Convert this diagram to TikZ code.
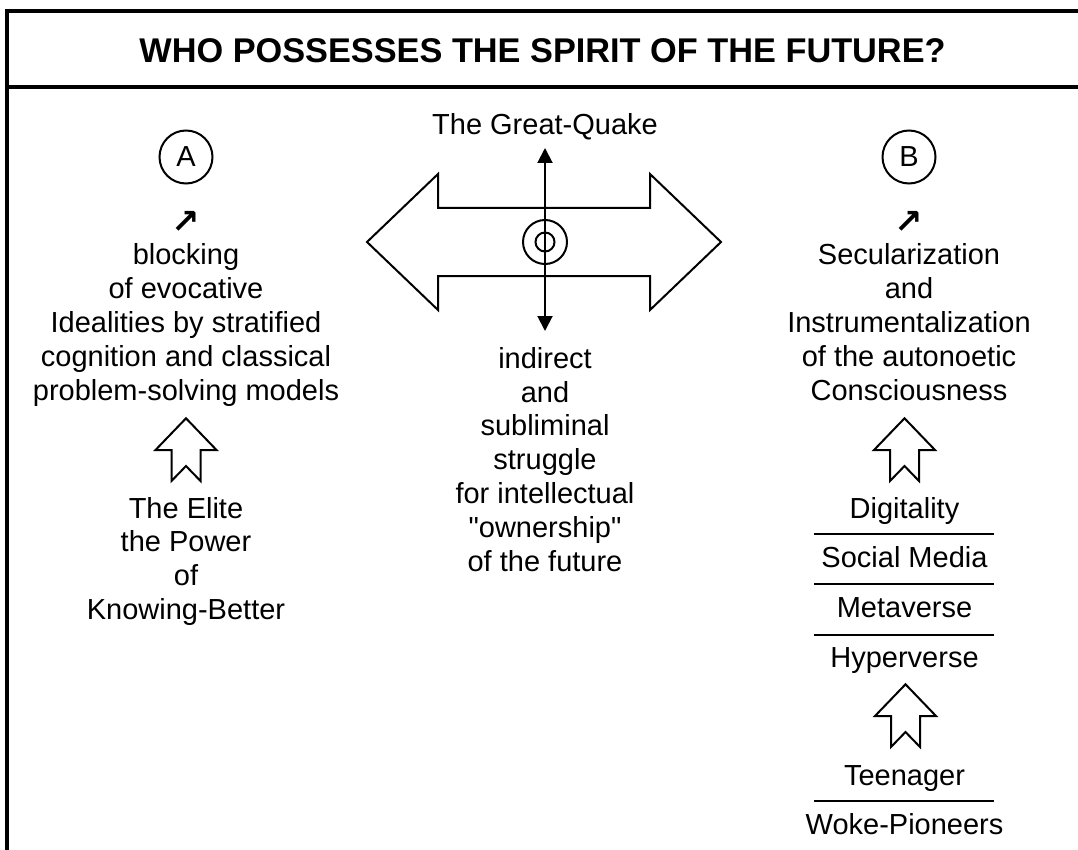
\documentclass[tikz,border=0pt]{standalone}
\usepackage{fontspec}
\setmainfont{Liberation Sans}[Ligatures=TeXOff]
\newfontfamily\symfont{DejaVu Sans}
\usetikzlibrary{arrows.meta}
\begin{document}
\begin{tikzpicture}[x=1pt,y=-1pt,
  frame/.style={line width=4pt},
  outline/.style={draw=black, line width=2pt, line join=miter},
  body/.style={inner sep=0pt, anchor=base, font=\fontsize{29}{33.8}\selectfont},
  titletext/.style={inner sep=0pt, anchor=base, font=\fontsize{34.3}{40}\selectfont\bfseries},
  lettercircle/.style={circle, draw=black, line width=2pt, minimum size=53pt, inner sep=0pt, font=\fontsize{29}{33.8}\selectfont},
  diag/.style={inner sep=0pt, font=\symfont\bfseries\fontsize{34}{40}\selectfont},
  sep/.style={line width=2pt},
  pics/blockup/.style={code={
    \draw[outline] (0,0) -- (30.5,31.7) -- (14.5,31.7) -- (14.5,62.7) -- (0,47.7)
      -- (-14.5,62.7) -- (-14.5,31.7) -- (-30.5,31.7) -- cycle;}}
]
\useasboundingbox (0,0) rectangle (1078,850);
% frame
\draw[frame] (7,852) -- (7,11) -- (1080,11);
\draw[frame] (7,87) -- (1080,87);
\node[titletext] (title) at (542.5,62.7) {WHO POSSESSES THE SPIRIT OF THE FUTURE?};

% column A
\node[lettercircle] (ca) at (186,157) {A};
\node[diag] (da) at (186,222) {↗};
\node[body] (atext) at (186,265) {\begin{tabular}[t]{@{}c@{}}blocking\\of evocative\\Idealities by stratified\\cognition and classical\\problem-solving models\end{tabular}};
\pic at (186,418.3) {blockup};
\node[body] (elite) at (186,518) {\begin{tabular}[t]{@{}c@{}}The Elite\\the Power\\of\\Knowing-Better\end{tabular}};

% centre
\node[body] (quake) at (545,135) {The Great-Quake};
\draw[outline] (367,242) -- (438,174) -- (438,208) -- (650,208) -- (650,174) -- (721,242)
  -- (650,310) -- (650,276) -- (438,276) -- (438,310) -- cycle;
\node[circle, draw=black, line width=2pt, minimum size=44pt, inner sep=0pt] (outer) at (545,242) {};
\node[circle, draw=black, line width=2pt, minimum size=19pt, inner sep=0pt] (inner) at (545,242) {};
\coordinate (qtop) at (545,148);
\coordinate (qbot) at (545,331);
\draw[line width=2pt, {Triangle[width=15pt,length=15pt]}-{Triangle[width=15pt,length=15pt]}] (qtop) -- (qbot);
\node[body] (struggle) at (545,368.3) {\begin{tabular}[t]{@{}c@{}}indirect\\and\\subliminal\\struggle\\for intellectual\\"ownership"\\of the future\end{tabular}};

% column B
\node[lettercircle] (cb) at (909,157) {B};
\node[diag] (db) at (909,222) {↗};
\node[body] (btext) at (909,265) {\begin{tabular}[t]{@{}c@{}}Secularization\\and\\Instrumentalization\\of the autonoetic\\Consciousness\end{tabular}};
\pic at (904.5,418.3) {blockup};
\node[body] (digi) at (904.5,518) {Digitality};
\draw[sep] (814,534) -- (994,534);
\node[body] (social) at (904.5,567) {Social Media};
\draw[sep] (814,584) -- (994,584);
\node[body] (meta) at (904.5,617) {Metaverse};
\draw[sep] (814,635) -- (994,635);
\node[body] (hyper) at (904.5,667) {Hyperverse};
\pic at (905.5,684.3) {blockup};
\node[body] (teen) at (904.5,785) {Teenager};
\draw[sep] (814,801) -- (994,801);
\node[body] (woke) at (904.5,834) {Woke-Pioneers};
\end{tikzpicture}
\end{document}
